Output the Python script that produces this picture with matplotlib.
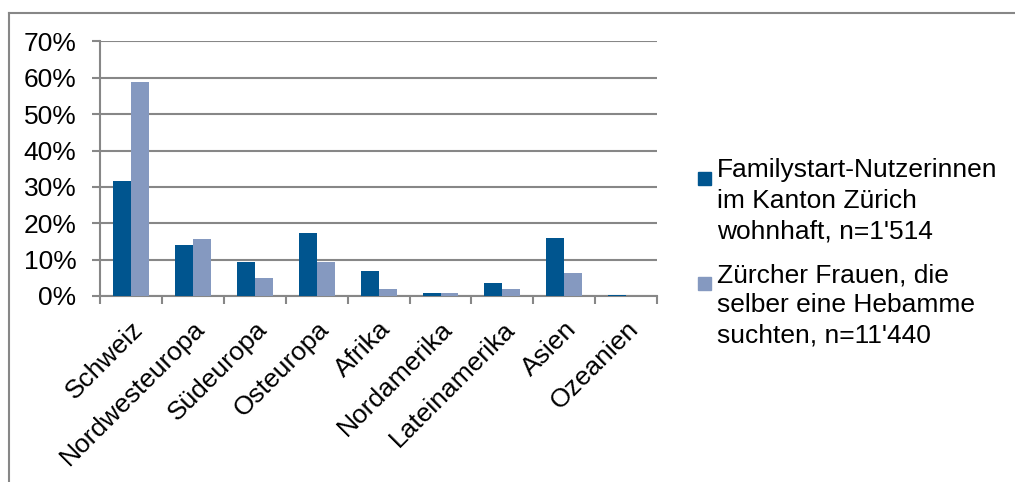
import numpy as np
import matplotlib.pyplot as plt
from matplotlib.lines import Line2D
from matplotlib.patches import Rectangle

regions = ["Schweiz", "Nordwesteuropa", "Südeuropa", "Osteuropa", "Afrika",
           "Nordamerika", "Lateinamerika", "Asien", "Ozeanien"]
familystart = [31.6, 14.1, 9.2, 17.3, 6.8, 0.9, 3.6, 15.9, 0.2]
zuercher = [58.8, 15.6, 5.0, 9.4, 1.9, 0.7, 1.8, 6.2, 0.1]
series_labels = ["Familystart-Nutzerinnen\nim Kanton Zürich\nwohnhaft, n=1'514",
                 "Zürcher Frauen, die\nselber eine Hebamme\nsuchten, n=11'440"]
colors = ["#00558f", "#8599c0"]

plt.rcParams.update({"font.family": ["Liberation Sans", "DejaVu Sans"], "font.size": 19})
grey = "#878787"

fig = plt.figure(figsize=(10.15, 4.82), dpi=100)
ax = fig.add_axes([0.0985, 0.386, 0.549, 0.528])

x = np.arange(len(regions))
w = 0.29
ax.bar(x - w / 2, familystart, w, color=colors[0], zorder=3)
ax.bar(x + w / 2, zuercher, w, color=colors[1], zorder=3)

ax.set_xlim(-0.5, len(regions) - 0.5)
ax.set_ylim(0, 70)
ax.set_yticks(np.arange(0, 71, 10))
ax.set_yticklabels([f"{v}%" for v in range(0, 71, 10)])
ax.yaxis.grid(True, color=grey, linewidth=1.5, zorder=0)

# category ticks sit between the groups, labels at group centres
ax.set_xticks(np.arange(-0.5, len(regions)), minor=False)
ax.set_xticklabels([])
ax.set_xticks(x, minor=True)
ax.set_xticklabels(regions, minor=True, rotation=45, ha="right", va="top",
                   rotation_mode="anchor")
ax.tick_params(axis="x", which="minor", length=0, pad=15)
ax.tick_params(axis="x", which="major", length=6, width=1.5, color=grey)
ax.tick_params(axis="y", length=6, width=1.5, color=grey, pad=11)

for side in ["top", "right"]:
    ax.spines[side].set_visible(False)
for side in ["left", "bottom"]:
    ax.spines[side].set_color(grey)
    ax.spines[side].set_linewidth(1.5)

# legend drawn by hand so the marker lines up with the first text line
H = 482
for i, (lab, col) in enumerate(zip(series_labels, colors)):
    base = 177 + i * 105
    fig.patches.append(Rectangle((698 / 1015, 1 - (base + 8) / H), 13 / 1015, 13 / H,
                                 transform=fig.transFigure, color=col, figure=fig))
    for j, line in enumerate(lab.split("\n")):
        fig.text(717 / 1015, 1 - (base + 30.5 * j) / H, line,
                 ha="left", va="baseline")

# chart area frame
fig.add_artist(Line2D([9 / 1015, 1], [1 - 13 / H, 1 - 13 / H], color=grey, lw=1.5))
fig.add_artist(Line2D([9 / 1015, 9 / 1015], [0, 1 - 13 / H], color=grey, lw=1.5))

fig.savefig("out.png", dpi=100)
